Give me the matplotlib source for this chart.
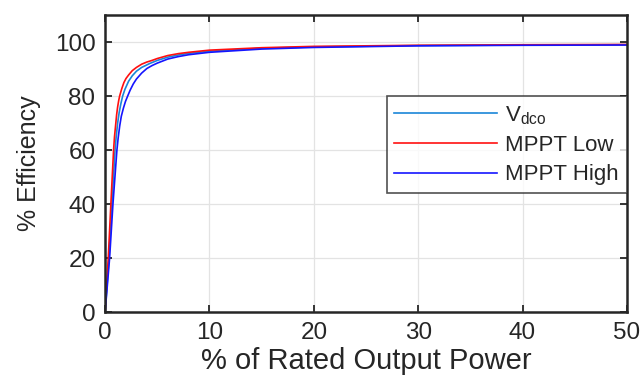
import matplotlib
matplotlib.use("Agg")
from matplotlib import pyplot as plt

# values (% of rated output power -> % efficiency)
X_VDCO = [0, 0.37, 0.65, 0.95, 1.05, 1.2, 1.35, 1.5, 1.68, 1.9, 2.25, 2.6, 3.0, 3.5,
          4.3, 5.0, 6.0, 7.0, 8.0, 10, 15, 20, 30, 40, 50]
VDCO = [0, 20, 40, 60, 64.5, 70, 74, 77, 80, 82.5, 85.5, 87.5, 89.2, 90.6,
        92.1, 93.2, 94.4, 95.2, 95.8, 96.6, 97.7, 98.2, 98.7, 98.9, 99.0]

X_LOW = [0, 0.3, 0.55, 0.81, 0.9, 1.0, 1.1, 1.2, 1.3, 1.39, 1.6, 1.8, 2.0, 2.25, 2.6,
         3.0, 3.5, 4.0, 4.5, 5.0, 6.0, 7.0, 8.0, 10, 15, 20, 30, 40, 50]
MPPT_LOW = [0, 20, 40, 60, 65, 69, 73, 76, 78.3, 80, 82.8, 85, 86.5, 87.8, 89.4,
            90.6, 91.8, 92.6, 93.2, 93.9, 95.0, 95.7, 96.2, 97.0, 97.9, 98.4, 98.8, 99.0, 99.1]

X_HIGH = [0, 0.43, 0.75, 1.13, 1.25, 1.4, 1.55, 1.75, 1.95, 2.16, 2.4, 2.7, 3.0, 3.5,
          4.0, 4.5, 5.0, 6.0, 7.0, 8.0, 10, 15, 20, 30, 40, 50]
MPPT_HIGH = [0, 20, 40, 60, 64.5, 69, 72.5, 75.5, 78, 80, 82.2, 84.5, 86.3, 88.5,
             90.2, 91.3, 92.2, 93.7, 94.6, 95.3, 96.2, 97.4, 98.0, 98.6, 98.8, 98.9]

TXT = "#262626"

plt.rcParams['font.family'] = ['Liberation Sans', 'DejaVu Sans']
plt.rcParams['mathtext.default'] = 'regular'

fig = plt.figure(figsize=(6.41, 3.76), dpi=100)
ax = fig.add_axes([0.164, 0.170, 0.814, 0.790])

ax.plot(X_VDCO, VDCO, color="#1a86d8", lw=1.2, label="V$_{dco}$")
ax.plot(X_LOW, MPPT_LOW, color="#ff1010", lw=1.2, label="MPPT Low")
ax.plot(X_HIGH, MPPT_HIGH, color="#1515ff", lw=1.2, label="MPPT High")

ax.set_xlim(0, 50)
ax.set_ylim(0, 110)
ax.set_xticks([0, 10, 20, 30, 40, 50])
ax.set_yticks([0, 20, 40, 60, 80, 100])
ax.grid(True, color="#e3e3e3", lw=0.9)
ax.set_axisbelow(True)

ax.tick_params(direction="in", length=5, width=1.3, top=True, right=True,
               labelsize=17.5, colors=TXT, pad=7)
for s in ax.spines.values():
    s.set_linewidth(1.8)
    s.set_color(TXT)

ax.set_xlabel("% of Rated Output Power", fontsize=21, color=TXT, labelpad=2)
ax.set_ylabel("% Efficiency", fontsize=18, color=TXT, labelpad=10)

leg = ax.legend(loc="upper right", bbox_to_anchor=(1.0, 0.727), fontsize=16,
                frameon=True, fancybox=False, handlelength=4.6, handletextpad=0.4,
                borderpad=0.35, labelspacing=0.38, borderaxespad=0)
leg.get_frame().set_edgecolor(TXT)
leg.get_frame().set_linewidth(1.2)
for t in leg.get_texts():
    t.set_color(TXT)

plt.savefig("out.png", dpi=100)
